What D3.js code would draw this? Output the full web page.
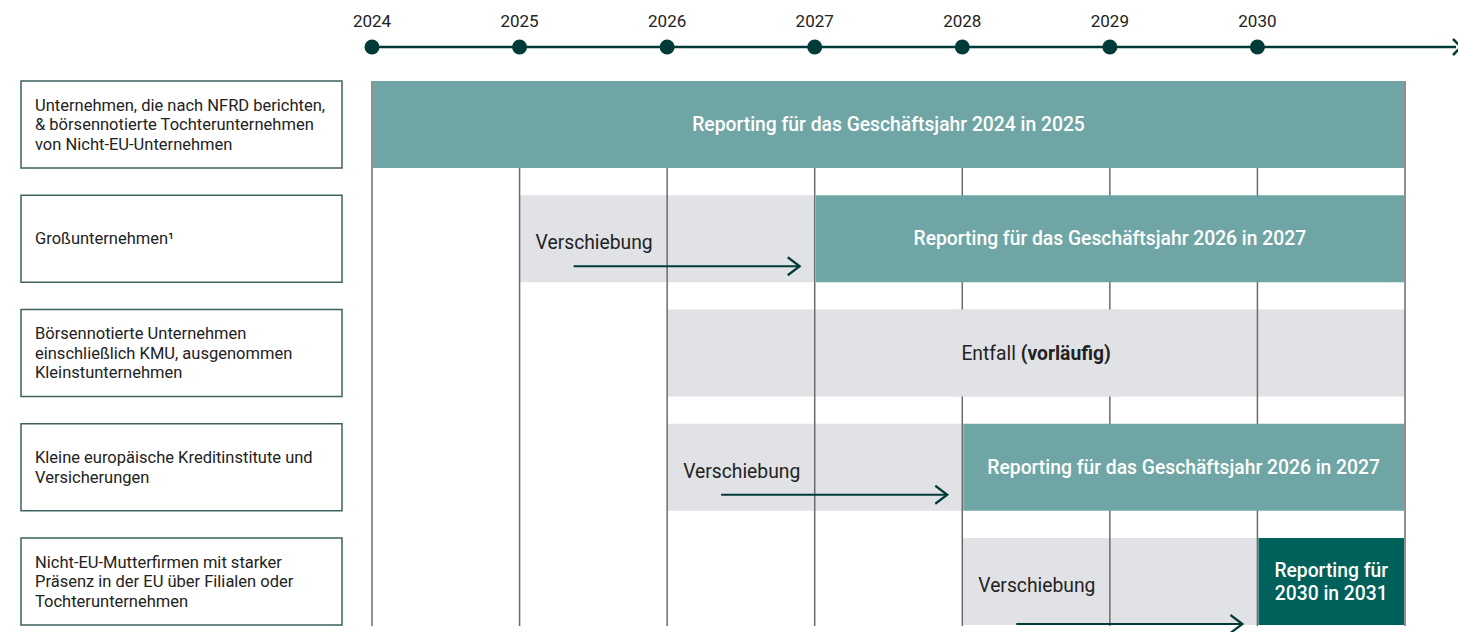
<!DOCTYPE html>
<html>
<head>
<meta charset="utf-8">
<script src="https://cdn.jsdelivr.net/npm/d3@7"></script>
<style>
  body { margin: 0; background: #fff; }
  svg { display: block; font-family: Roboto, "Noto Sans", sans-serif; }
</style>
</head>
<body>
<svg id="chart" width="1458" height="632"></svg>
<script>
// timeline years
const years = [2024, 2025, 2026, 2027, 2028, 2029, 2030]
const gridYears = [2024, 2025, 2026, 2027, 2028, 2029, 2030, 2031]

// left column labels, one per row
const rowLabels = [
  ['Unternehmen, die nach NFRD berichten,', '& börsennotierte Tochterunternehmen', 'von Nicht-EU-Unternehmen'],
  ['Großunternehmen¹'],
  ['Börsennotierte Unternehmen', 'einschließlich KMU, ausgenommen', 'Kleinstunternehmen'],
  ['Kleine europäische Kreditinstitute und', 'Versicherungen'],
  ['Nicht-EU-Mutterfirmen mit starker', 'Präsenz in der EU über Filialen oder', 'Tochterunternehmen']
]

// postponement phases (grey) : row, from, to
const delays = [
  { row: 1, from: 2025, to: 2027, label: 'Verschiebung' },
  { row: 3, from: 2026, to: 2028, label: 'Verschiebung' },
  { row: 4, from: 2028, to: 2030, label: 'Verschiebung' }
]

// cancelled (grey, centered text)
const dropped = [
  { row: 2, from: 2026, to: 2031, label: 'Entfall ', bold: '(vorläufig)' }
]

// reporting phases
const reporting = [
  { row: 0, from: 2024, to: 2031, lines: ['Reporting für das Geschäftsjahr 2024 in 2025'], kind: 'light' },
  { row: 1, from: 2027, to: 2031, lines: ['Reporting für das Geschäftsjahr 2026 in 2027'], kind: 'light' },
  { row: 3, from: 2028, to: 2031, lines: ['Reporting für das Geschäftsjahr 2026 in 2027'], kind: 'light' },
  { row: 4, from: 2030, to: 2031, lines: ['Reporting für', '2030 in 2031'], kind: 'dark' }
]

const svg = d3.select('#chart')
const x = d3.scaleLinear().domain([2024, 2031]).range([372, 1405])
const rowTop = d3.scaleLinear().domain([0, 4]).range([81, 538])
const rowH = 87

const dark = '#003b3a'
const colors = { light: '#6fa6a5', dark: '#00605a', grey: '#e1e2e6' }

// timeline
svg.append('line')
    .attr('x1', x(2024)).attr('x2', 1456)
    .attr('y1', 47).attr('y2', 47)
    .attr('stroke', dark).attr('stroke-width', 2.5)
svg.append('path')
    .attr('d', 'M1453,39 L1461,47 L1453,55')
    .attr('fill', 'none').attr('stroke', dark).attr('stroke-width', 2.5)

svg.append('g').selectAll('circle')
  .data(years)
  .enter().append('circle')
    .attr('cx', d => x(d)).attr('cy', 47).attr('r', 7.5)
    .attr('fill', dark)

svg.append('g').selectAll('text')
  .data(years)
  .enter().append('text')
    .attr('x', d => x(d)).attr('y', 27)
    .attr('text-anchor', 'middle')
    .attr('font-size', 17)
    .attr('fill', '#222')
    .text(d => d)

// left boxes
const box = svg.append('g').selectAll('g')
  .data(rowLabels)
  .enter().append('g')

box.append('rect')
    .attr('x', 21).attr('y', (d, i) => rowTop(i))
    .attr('width', 321).attr('height', rowH)
    .attr('fill', '#fff').attr('stroke', '#3d615f').attr('stroke-width', 1.5)

box.each(function(d, i) {
  let cy = rowTop(i) + rowH / 2
  let lh = 19.5
  let t = d3.select(this).append('text')
      .attr('font-size', 16.5)
      .attr('fill', '#222')
  d.forEach((line, j) => {
    t.append('tspan')
        .attr('x', 35)
        .attr('y', cy + (j - (d.length - 1) / 2) * lh + 5.5)
        .text(line)
  })
})

// grey bars
svg.append('g').selectAll('rect')
  .data(delays.concat(dropped))
  .enter().append('rect')
    .attr('x', d => x(d.from)).attr('y', d => rowTop(d.row))
    .attr('width', d => x(d.to) - x(d.from)).attr('height', rowH)
    .attr('fill', colors.grey)

// grid lines
svg.append('g').selectAll('line')
  .data(gridYears)
  .enter().append('line')
    .attr('x1', d => x(d)).attr('x2', d => x(d))
    .attr('y1', rowTop(0)).attr('y2', 626)
    .attr('stroke', '#6b6b6b').attr('stroke-width', 1.5)

// reporting bars
const rep = svg.append('g').selectAll('g')
  .data(reporting)
  .enter().append('g')

rep.append('rect')
    .attr('x', d => x(d.from) + 1).attr('y', d => rowTop(d.row))
    .attr('width', d => x(d.to) - x(d.from) - 2).attr('height', rowH)
    .attr('fill', d => colors[d.kind])

rep.each(function(d) {
  let cx = (x(d.from) + x(d.to)) / 2
  let cy = rowTop(d.row) + rowH / 2
  let t = d3.select(this).append('text')
      .attr('text-anchor', 'middle')
      .attr('font-size', 19.3)
      .attr('font-weight', 500)
      .attr('fill', '#fff')
  d.lines.forEach((line, j) => {
    t.append('tspan')
        .attr('x', cx)
        .attr('y', cy + (j - (d.lines.length - 1) / 2) * 23 + 6.5)
        .text(line)
  })
})

// cancelled label, with a grey backing that hides the grid behind it
dropped.forEach(d => {
  let g = svg.append('g')
  let bg = g.append('rect').attr('fill', colors.grey)
  let t = g.append('text')
      .attr('x', (x(d.from) + x(d.to)) / 2)
      .attr('y', rowTop(d.row) + rowH / 2 + 6.5)
      .attr('text-anchor', 'middle')
      .attr('font-size', 19.3)
      .attr('fill', '#222')
  t.append('tspan').text(d.label)
  t.append('tspan').attr('font-weight', 700).text(d.bold)
  let bb = t.node().getBBox()
  bg.attr('x', bb.x - 8).attr('width', bb.width + 16)
    .attr('y', rowTop(d.row)).attr('height', rowH)
})

// postponement labels + arrows
const del = svg.append('g').selectAll('g')
  .data(delays)
  .enter().append('g')

del.append('text')
    .attr('x', d => x(d.from) + 16)
    .attr('y', d => rowTop(d.row) + rowH / 2 + 10.5)
    .attr('font-size', 19.3)
    .attr('fill', '#222')
    .text(d => d.label)

function arrowY(d) {
  return d.row === 4 ? rowTop(d.row) + 86 : rowTop(d.row) + 71
}

del.append('line')
    .attr('x1', d => x(d.from) + 54).attr('x2', d => x(d.to) - 15)
    .attr('y1', arrowY).attr('y2', arrowY)
    .attr('stroke', dark).attr('stroke-width', 2.2)

del.append('path')
    .attr('d', d => {
      let ex = x(d.to) - 15, ey = arrowY(d)
      return 'M' + (ex - 12) + ',' + (ey - 9) + 'L' + ex + ',' + ey + 'L' + (ex - 12) + ',' + (ey + 9)
    })
    .attr('fill', 'none').attr('stroke', dark).attr('stroke-width', 2.2)
</script>
</body>
</html>
